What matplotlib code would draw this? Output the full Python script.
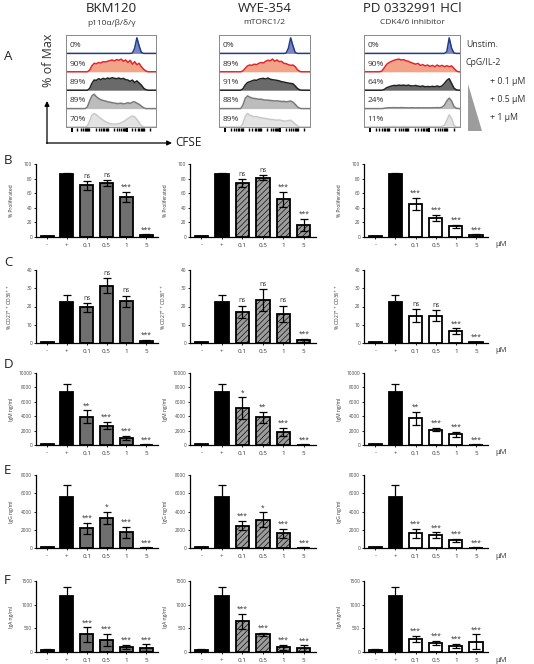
import numpy as np
import matplotlib
matplotlib.use("Agg")
import matplotlib.pyplot as plt
from matplotlib.patches import Polygon
from matplotlib.ticker import LogLocator

plt.rcParams['font.family'] = ['Open Sans', 'DejaVu Sans']
plt.rcParams['hatch.linewidth'] = 0.45
plt.rcParams['axes.linewidth'] = 0.9

# --------------------------------------------------------------------------- #
# Panel A: CFSE histograms (heights per bin, fraction of row height)
# --------------------------------------------------------------------------- #
drugs = ["BKM120", "WYE-354", "PD 0332991 HCl"]
targets = ["p110α/β/δ/γ", "mTORC1/2", "CDK4/6 inhibitor"]
conditions = ["Unstim.", "CpG/IL-2", "+ 0.1 µM", "+ 0.5 µM", "+ 1 µM"]
hist_pct = [["0%", "90%", "89%", "89%", "70%"],
            ["0%", "89%", "91%", "88%", "89%"],
            ["0%", "90%", "64%", "24%", "11%"]]

bkm_hist = [
    [0]*29 + [0.02, 0.3, 0.92, 0.45, 0.05] + [0]*6,
    [0]*10 + [0.1, 0.35, 0.5, 0.48, 0.55, 0.52, 0.6, 0.58, 0.62, 0.66, 0.7, 0.64, 0.72, 0.68,
              0.75, 0.62, 0.7, 0.55, 0.68, 0.45, 0.6, 0.42, 0.5, 0.3, 0.15, 0.05] + [0]*4,
    [0]*10 + [0.1, 0.4, 0.6, 0.58, 0.68, 0.62, 0.7, 0.65, 0.72, 0.68, 0.74, 0.7, 0.68, 0.72,
              0.66, 0.7, 0.62, 0.6, 0.52, 0.6, 0.45, 0.55, 0.42, 0.3, 0.12, 0.03] + [0]*4,
    [0]*9 + [0.1, 0.45, 0.75, 0.85, 0.7, 0.6, 0.52, 0.48, 0.45, 0.4, 0.38, 0.35, 0.33, 0.3,
             0.3, 0.32, 0.28, 0.3, 0.35, 0.3, 0.38, 0.4, 0.32, 0.25, 0.15, 0.05] + [0]*5,
    [0]*9 + [0.05, 0.35, 0.7, 0.8, 0.72, 0.6, 0.5, 0.4, 0.32, 0.25, 0.2, 0.18, 0.17, 0.18,
             0.2, 0.25, 0.32, 0.4, 0.5, 0.58, 0.65, 0.6, 0.45, 0.25, 0.08] + [0]*6,
]
wye_hist = [
    [0]*29 + [0.02, 0.3, 0.92, 0.45, 0.05] + [0]*6,
    [0]*10 + [0.05, 0.2, 0.35, 0.4, 0.38, 0.45, 0.42, 0.5, 0.55, 0.52, 0.62, 0.68, 0.65, 0.75,
              0.62, 0.7, 0.6, 0.62, 0.5, 0.48, 0.42, 0.38, 0.4, 0.3, 0.12, 0.02] + [0]*4,
    [0]*10 + [0.08, 0.3, 0.45, 0.5, 0.55, 0.6, 0.58, 0.65, 0.68, 0.7, 0.66, 0.72, 0.65, 0.62,
              0.6, 0.58, 0.55, 0.5, 0.48, 0.45, 0.42, 0.4, 0.38, 0.25, 0.1, 0.02] + [0]*4,
    [0]*10 + [0.2, 0.6, 0.75, 0.68, 0.62, 0.6, 0.58, 0.55, 0.56, 0.52, 0.5, 0.5, 0.48, 0.47,
              0.45, 0.46, 0.44, 0.42, 0.43, 0.4, 0.42, 0.45, 0.38, 0.25, 0.1, 0.02] + [0]*4,
    [0]*10 + [0.2, 0.62, 0.8, 0.7, 0.65, 0.6, 0.62, 0.57, 0.55, 0.52, 0.5, 0.48, 0.45, 0.44,
              0.42, 0.4, 0.42, 0.38, 0.36, 0.35, 0.38, 0.4, 0.3, 0.18, 0.06] + [0]*5,
]
pd_hist = [
    [0]*34 + [0.1, 0.92, 0.3, 0.02] + [0]*2,
    [0]*7 + [0.05, 0.25, 0.45, 0.55, 0.62, 0.68, 0.72, 0.75, 0.7, 0.72, 0.65, 0.62, 0.55, 0.5,
             0.45, 0.5, 0.38, 0.42, 0.35, 0.4, 0.32, 0.38, 0.3, 0.4, 0.32, 0.38, 0.3, 0.36,
             0.3, 0.35, 0.2, 0.05, 0],
    [0]*8 + [0.05, 0.15, 0.2, 0.25, 0.28, 0.27, 0.3, 0.28, 0.3, 0.27, 0.3, 0.26, 0.25, 0.28,
             0.24, 0.22, 0.25, 0.2, 0.22, 0.2, 0.23, 0.2, 0.25, 0.2, 0.25, 0.4, 0.58, 0.68,
             0.4, 0.12, 0.02, 0],
    [0]*8 + [0.02, 0.04, 0.05, 0.05, 0.06, 0.05, 0.05, 0.06, 0.05, 0.05, 0.04, 0.05, 0.05, 0.04,
             0.05, 0.04, 0.05, 0.04, 0.05, 0.04, 0.05, 0.05, 0.06, 0.05, 0.08, 0.2, 0.45, 0.62,
             0.45, 0.12, 0.02, 0],
    [0]*8 + [0.01, 0.02, 0.02, 0.02, 0.03, 0.02, 0.02, 0.02, 0.03, 0.02, 0.02, 0.02, 0.02, 0.02,
             0.02, 0.02, 0.02, 0.02, 0.02, 0.02, 0.02, 0.02, 0.02, 0.02, 0.03, 0.1, 0.4, 0.72,
             0.5, 0.1, 0.01, 0],
]
hists = [bkm_hist, wye_hist, pd_hist]
line_colors = ["#1d3d8c", "#e0262a", "#222222", "#7a7a7a", "#c9c9c9"]
fill_colors = ["#7d84c2", "#f3a488", "#6a6a6a", "#bcbcbc", "#e3e3e3"]

# --------------------------------------------------------------------------- #
# Panels B-F: bar charts (mean, error, significance)
# --------------------------------------------------------------------------- #
dose_labels = ["-", "+", "0.1", "0.5", "1", "5"]

prolif_mean = [[1.5, 86, 71, 74, 55, 2.5],
               [1.5, 86, 74, 81.5, 51.5, 16.5],
               [1.5, 86, 45, 26, 14.5, 2.5]]
prolif_err = [[0.5, 1.5, 6, 4, 7, 1],
              [0.5, 1.5, 6, 3, 10, 8],
              [0.5, 1.5, 8, 4, 2.5, 1]]
prolif_sig = [["", "", "ns", "ns", "***", "***"],
              ["", "", "ns", "ns", "***", "***"],
              ["", "", "***", "***", "***", "***"]]

pb_mean = [[0.3, 22.5, 19.5, 31.5, 23, 1],
           [0.3, 22.5, 17, 23.5, 16, 1.5],
           [0.3, 22.5, 15, 15, 6.5, 0.5]]
pb_err = [[0.2, 4, 2.5, 4, 3, 0.8],
          [0.2, 4, 3.5, 6, 4.5, 0.8],
          [0.2, 4, 3.5, 3, 1.5, 0.3]]
pb_sig = [["", "", "ns", "ns", "ns", "***"],
          ["", "", "ns", "ns", "ns", "***"],
          ["", "", "ns", "ns", "***", "***"]]

igm_mean = [[80, 7300, 3900, 2700, 950, 50],
            [80, 7300, 5100, 3850, 1800, 50],
            [80, 7300, 3700, 2150, 1500, 50]]
igm_err = [[30, 1200, 900, 500, 300, 20],
           [30, 1200, 1500, 750, 550, 20],
           [30, 1200, 950, 250, 350, 20]]
igm_sig = [["", "", "**", "***", "***", "***"],
           ["", "", "*", "**", "***", "***"],
           ["", "", "**", "***", "***", "***"]]

igg_mean = [[100, 5600, 2150, 3300, 1750, 50],
            [100, 5600, 2450, 3100, 1600, 50],
            [100, 5600, 1600, 1400, 850, 50]]
igg_err = [[40, 1300, 600, 700, 600, 20],
           [40, 1300, 500, 800, 500, 20],
           [40, 1300, 450, 300, 150, 20]]
igg_sig = [["", "", "***", "*", "***", "***"],
           ["", "", "***", "*", "***", "***"],
           ["", "", "***", "***", "***", "***"]]

iga_mean = [[40, 1180, 370, 260, 110, 90],
            [40, 1180, 650, 370, 100, 80],
            [40, 1180, 280, 190, 130, 220]]
iga_err = [[15, 200, 150, 130, 45, 70],
           [15, 200, 160, 30, 50, 60],
           [15, 200, 60, 50, 40, 150]]
iga_sig = [["", "", "***", "***", "***", "***"],
           ["", "", "***", "***", "***", "***"],
           ["", "", "***", "***", "***", "***"]]

rows = [("B", "% Proliferated", prolif_mean, prolif_err, prolif_sig, 100, 20),
        ("C", "% CD27$^{++}$CD38$^{++}$", pb_mean, pb_err, pb_sig, 40, 10),
        ("D", "IgM ng/ml", igm_mean, igm_err, igm_sig, 10000, 2000),
        ("E", "IgG ng/ml", igg_mean, igg_err, igg_sig, 8000, 2000),
        ("F", "IgA ng/ml", iga_mean, iga_err, iga_sig, 1500, 500)]

# --------------------------------------------------------------------------- #
# layout (pixel boxes)
# --------------------------------------------------------------------------- #
W, H = 534, 664
fig = plt.figure(figsize=(W / 100, H / 100), dpi=100)

def px_axes(x0, y0, x1, y1, **kw):
    return fig.add_axes([x0 / W, 1 - y1 / H, (x1 - x0) / W, (y1 - y0) / H], **kw)

hist_x = [(66, 156), (219, 310), (364, 460)]
hist_y = (35, 127)
bar_x = [(36, 158), (190, 316), (364, 488)]
bar_y = [(164, 237), (270, 343), (373, 445), (475, 548), (581, 652)]
row_letter_y = [161, 262, 364, 470, 580]

drug_face = ["#6f6f6f", "#9c9c9c", "white"]
drug_hatch = [None, "//////", None]

# ---- A: histograms -------------------------------------------------------- #
for c in range(3):
    x0, x1 = hist_x[c]
    ax = px_axes(x0, hist_y[0], x1, hist_y[1])
    ax.set_xlim(0, 1); ax.set_ylim(0, 5)
    for k, h in enumerate(hists[c]):
        base = 4 - k
        n = len(h)
        xs = np.concatenate([[0], (np.arange(n) + 0.5) / n, [1]])
        ys = base + 0.92 * np.array([0] + h + [0])
        ax.fill_between(xs, base, ys, color=fill_colors[k], lw=0)
        ax.plot(xs, ys, color=line_colors[k], lw=1.1)
        ax.text(0.035, base + 0.42, hist_pct[c][k], fontsize=6, color="#333333",
                va="center", ha="left")
    ax.set_xticks([]); ax.set_yticks([])
    for s in ax.spines.values():
        s.set_color("#8a8a8a"); s.set_linewidth(0.7)
    # log-scale tick row under each box
    tx = px_axes(x0 + 6, hist_y[0], x1 - 4, hist_y[1] + 1, frameon=False)
    tx.set_xscale("log"); tx.set_xlim(10, 2.5e5)
    tx.xaxis.set_major_locator(LogLocator(base=10))
    tx.xaxis.set_minor_locator(LogLocator(base=10, subs=np.arange(2, 10), numticks=20))
    tx.set_yticks([])
    tx.tick_params(axis="x", which="major", length=3, width=1.4, direction="out",
                   labelbottom=False)
    tx.tick_params(axis="x", which="minor", length=2.2, width=1.0, direction="out",
                   labelbottom=False)
    tx.patch.set_alpha(0)

# ---- B-F: bar charts ------------------------------------------------------ #
xpos = np.arange(len(dose_labels))
for r, (letter, ylabel, means, errs, sigs, ymax, ystep) in enumerate(rows):
    for c in range(3):
        x0, x1 = bar_x[c]
        ax = px_axes(x0, bar_y[r][0], x1, bar_y[r][1])
        faces = ["black", "black"] + [drug_face[c]] * 4
        bars = ax.bar(xpos, means[c], width=0.66, color=faces, edgecolor="black",
                      linewidth=1.3, zorder=2)
        if drug_hatch[c]:
            for b in bars[2:]:
                b.set_hatch(drug_hatch[c])
        ax.errorbar(xpos, means[c], yerr=errs[c], fmt="none", ecolor="black",
                    elinewidth=0.9, capsize=2.6, capthick=0.9, zorder=3)
        for xi, m, e, s in zip(xpos, means[c], errs[c], sigs[c]):
            if s:
                ax.text(xi, m + e + ymax * 0.015, s, ha="center", va="bottom",
                        fontsize=4.8, color="#333333")
        ax.set_xlim(-0.56, 5.6)
        ax.set_ylim(0, ymax)
        ax.set_yticks(np.arange(0, ymax + 1, ystep))
        ax.set_xticks(xpos)
        ax.set_xticklabels(dose_labels)
        ax.tick_params(axis="y", labelsize=3.4, length=1.8, width=0.6, pad=1,
                       labelcolor="#444444")
        ax.tick_params(axis="x", labelsize=4.5, length=1.5, width=0.6, pad=2.5,
                       labelcolor="#333333")
        ax.spines["top"].set_visible(False)
        ax.spines["right"].set_visible(False)
        ax.set_ylabel(ylabel, fontsize=3.6, color="#333333")
        ax.yaxis.set_label_coords(-22 / (x1 - x0), 0.5)

# ---- overlay text and arrows (pixel coordinates) ------------------------- #
ov = fig.add_axes([0, 0, 1, 1], frameon=False)
ov.set_xlim(0, W); ov.set_ylim(H, 0); ov.axis("off")

for c in range(3):
    cx = (hist_x[c][0] + hist_x[c][1]) / 2
    ov.text(cx, 9, drugs[c], ha="center", va="center", fontsize=9.5, color="#222222")
    ov.text(cx, 23, targets[c], ha="center", va="center", fontsize=6, color="#333333")

ov.text(4, 57, "A", fontsize=9.5, va="center", ha="left", color="#222222")
for letter, ly in zip("BCDEF", row_letter_y):
    ov.text(4, ly, letter, fontsize=9.5, va="center", ha="left", color="#222222")

label_y = [hist_y[0] + (k + 0.5) * (hist_y[1] - hist_y[0]) / 5 for k in range(5)]
for k, lab in enumerate(conditions):
    lx = 466 if k < 2 else 490
    ov.text(lx, label_y[k], lab, fontsize=6.3, va="center", ha="left", color="#333333")
ov.add_patch(Polygon([(468, 84), (468, 131), (482, 131)], closed=True,
                     facecolor="#9c9c9c", edgecolor="none"))

ov.text(49, 60, "% of Max", rotation=90, fontsize=9, va="center", ha="center",
        color="#333333")
ov.annotate("", xy=(47, 101), xytext=(47, 143.5),
            arrowprops=dict(arrowstyle="-|>", lw=0.9, color="black",
                            shrinkA=0, shrinkB=0, mutation_scale=7))
ov.annotate("", xy=(172, 143), xytext=(46.5, 143),
            arrowprops=dict(arrowstyle="-|>", lw=0.9, color="black",
                            shrinkA=0, shrinkB=0, mutation_scale=7))
ov.text(175, 143, "CFSE", fontsize=8.5, va="center", ha="left", color="#222222")

for r in range(5):
    ov.text(495, bar_y[r][1] + 8, "µM", fontsize=5.5, va="center", ha="left",
            color="#333333")

fig.savefig("out.png", dpi=100)
